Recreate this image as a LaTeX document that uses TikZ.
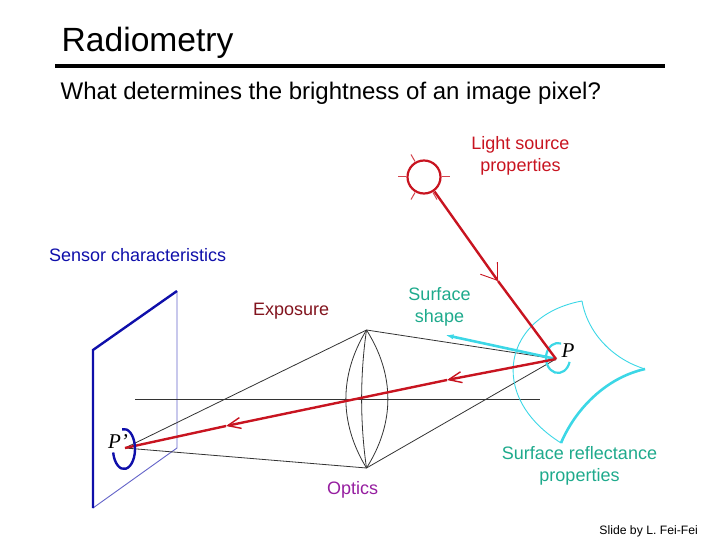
\documentclass[tikz,border=0pt]{standalone}
\usepackage{fontspec}
\setmainfont{Liberation Sans}
\newfontfamily\serifit[Ligatures=TeX]{Liberation Serif}
\usepackage{xcolor}
\definecolor{rayred}{RGB}{200,20,32}
\definecolor{labelteal}{RGB}{30,170,140}
\definecolor{labelmaroon}{RGB}{130,20,30}
\definecolor{labelpurple}{RGB}{150,30,160}
\definecolor{sensorblue}{RGB}{15,15,170}
\definecolor{surfcyan}{RGB}{60,215,230}
\usetikzlibrary{arrows.meta, positioning}

\begin{document}
\begin{tikzpicture}[
  x=1pt, y=-1pt,
  every node/.style={align=center, inner sep=0pt},
  label/.style={font=\fontsize{18}{22}\selectfont},
  ray/.style={rayred, line width=2.4pt},
  raytip/.style={ray, -{Straight Barb[length=13pt, width=11pt, line width=1.4pt]}},
  sourcetip/.style={ray, -{Straight Barb[length=15pt, width=21pt, line width=0.9pt]}},
  lensline/.style={black!80, line width=0.8pt},
  plane/.style={sensorblue, line width=2.4pt},
  planethin/.style={sensorblue!65, line width=0.9pt},
  surfthin/.style={surfcyan, line width=0.9pt},
  surfthick/.style={surfcyan, line width=2.6pt}
]
\useasboundingbox (0,0) rectangle (720,540);

\node[anchor=base west, font=\fontsize{33.6}{36}\selectfont] (title) at (61.5,52) {Radiometry};
\coordinate (ruleL) at (55,66);
\coordinate (ruleR) at (665,66);
\draw[line width=4pt] (ruleL) -- (ruleR);
\node[anchor=base west, font=\fontsize{24}{28}\selectfont] (question) at (60.5,99.5) {What determines the brightness of an image pixel?};

\node[label, rayred] (lightlabel) at (520.5,156) {Light source\\properties};
\node[label, sensorblue, anchor=base west] (sensorlabel) at (49,261) {Sensor characteristics};
\node[label, labelmaroon, anchor=base west] (exposurelabel) at (253,315) {Exposure};
\node[label, labelteal] (shapelabel) at (439.5,307) {Surface\\shape};
\node[label, labelpurple, anchor=base west] (opticslabel) at (327,494.5) {Optics};
\node[label, labelteal] (reflectlabel) at (579.5,466) {Surface reflectance\\properties};
\node[anchor=base east, font=\fontsize{12.2}{14}\selectfont] (credit) at (698,534) {Slide by L. Fei-Fei};

% sensor plane
\coordinate (planeTL) at (93,350);
\coordinate (planeTR) at (177,291);
\coordinate (planeBL) at (93,508);
\coordinate (planeBR) at (177,448);
\draw[planethin] (planeTR) -- (planeBR) -- (planeBL);
\draw[plane, line join=miter] (planeTR) -- (planeTL) -- (planeBL);

% lens and rays
\coordinate (lenstop) at (366.5,330);
\coordinate (lensbot) at (366.5,468);
\coordinate (Ppt) at (556,359);
\coordinate (Pimg) at (125,448);
\coordinate (axisL) at (135,399);
\coordinate (axisR) at (540,399);
\draw[lensline] (axisL) -- (axisR);
\draw[lensline] (lenstop) .. controls (339,375) and (339,423) .. (lensbot);
\draw[lensline] (lenstop) .. controls (395,375) and (395,423) .. (lensbot);
\draw[lensline] (lenstop) .. controls (360,375) and (360,423) .. (lensbot);
\draw[lensline] (Pimg) -- (lenstop) -- (Ppt) -- (lensbot) -- (Pimg);

% surface patch
\coordinate (patchT) at (582,301);
\coordinate (patchR) at (645,369);
\coordinate (patchB) at (561,443);
\draw[surfthin] (patchT) .. controls (505,315) and (485,395) .. (patchB);
\draw[surfthin] (patchT) .. controls (588,335) and (615,360) .. (patchR);
\draw[surfthick] (patchR) .. controls (605,378) and (575,410) .. (patchB);
\coordinate (normalEnd) at (445,335);
\draw[surfcyan, line width=2.6pt, -{Latex[length=3mm, width=1.8mm]}] (Ppt) -- (normalEnd);
\draw[surfcyan, line width=2.2pt] (561.1,343.5) arc[start angle=-75, end angle=-345, x radius=12, y radius=15];

% light source
\node[circle, draw=rayred, line width=2.2pt, minimum size=33pt] (sun) at (424,177) {};
\foreach \a in {0,60,120,180,240}
  \draw[rayred!80, line width=1pt] (\a:18) ++(424,177) -- ++(\a:8);
\coordinate (sunfoot) at (434.5,191.5);
\coordinate (incomingmid) at (498,281);
\coordinate (lensmid) at (447,380);
\coordinate (outgoingmid) at (226,426);
\draw[sourcetip] (sunfoot) -- (incomingmid);
\draw[ray] (incomingmid) -- (Ppt);
\draw[raytip] (Ppt) -- (lensmid);
\draw[raytip] (lensmid) -- (outgoingmid);
\draw[ray] (outgoingmid) -- (Pimg);

% image point
\draw[plane] (122.1,429.3) arc[start angle=-100, end angle=170, x radius=11, y radius=20];
\node[font=\serifit\itshape\fontsize{21}{24}\selectfont] (Pname) at (568,351) {P};
\node[font=\serifit\itshape\fontsize{21}{24}\selectfont] (Pprime) at (118,442) {P’};
\end{tikzpicture}
\end{document}
